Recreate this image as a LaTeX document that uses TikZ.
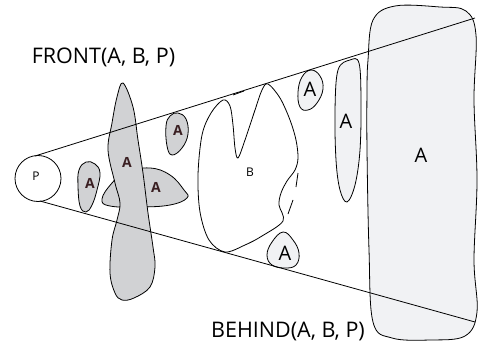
\documentclass[tikz,border=0pt]{standalone}
\usepackage{fontspec}
\setmainfont{Open Sans}
\definecolor{grayfill}{HTML}{D1D2D4}
\definecolor{lightfill}{HTML}{F1F2F4}
\definecolor{darkA}{HTML}{3A1F22}
\begin{document}
\begin{tikzpicture}[x=1pt,y=-1pt,
  outline/.style={draw=black,line width=0.8pt},
  lightA/.style={outline,fill=lightfill},
  grayA/.style={outline,fill=grayfill},
  conel/.style={draw=black,line width=0.8pt},
  hid/.style={draw=black,line width=0.8pt},
  biglab/.style={font=\fontsize{20}{22}\selectfont},
  graylab/.style={font=\fontsize{14}{16}\selectfont\bfseries,text=darkA},
  smalllab/.style={font=\fontsize{12}{14}\selectfont},
  title/.style={font=\fontsize{21.5}{24}\selectfont}]
\useasboundingbox (0,0) rectangle (481,350);
% big A at right
\path[lightA] plot[smooth cycle,tension=0.6] coordinates {(368,60) (373,20) (395,6) (440,7) (466,11) (476,35) (474,100) (477,180) (474,260) (477,312) (465,336) (430,340) (392,338) (373,322) (369,250) (367,150) (367,90)};
% tall A
\path[lightA] plot[smooth cycle,tension=0.6] coordinates {(350,60) (359,63) (361,100) (360,150) (355,185) (347,202) (340,190) (336,160) (335,110) (338,70)};
% small light A top and bottom
\path[lightA] plot[smooth cycle,tension=0.7] coordinates {(311,70) (320,76) (323,89) (317,103) (308,110) (300,107) (298,92) (302,77)};
\path[lightA] plot[smooth cycle,tension=0.7] coordinates {(283,232) (293,240) (299,253) (296,265) (285,268) (272,265) (267,255) (272,242)};
% gray shapes
\path[grayA] plot[smooth cycle,tension=0.7] coordinates {(102,199) (112,183) (126,172) (150,168) (170,175) (184,190) (187,198) (170,205) (140,207) (110,206)};
\path[grayA] plot[smooth cycle,tension=0.6] coordinates {(123,83) (133,107) (138,140) (143,173) (148,213) (153,247) (155,267) (150,287) (134,298) (122,300) (115,293) (110,273) (112,240) (117,220) (120,203) (115,183) (108,150) (112,123) (117,97)};
\path[grayA] plot[smooth cycle,tension=0.7] coordinates {(86,162) (95,164) (100,173) (97,190) (92,205) (86,212) (80,206) (78,186) (79,170)};
\path[grayA] plot[smooth cycle,tension=0.7] coordinates {(178,113) (186,119) (188,134) (182,148) (172,155) (167,146) (166,126) (170,116)};
% B shape
\path[outline] plot[smooth cycle,tension=0.55] coordinates {(223,100) (230,106) (233,125) (235,148) (238,158) (245,140) (255,110) (262,90) (268,84) (280,98) (290,120) (296,140) (298,158) (295,170) (287,181) (281,193) (279,205) (283,221) (262,236) (245,245) (225,252) (209,240) (200,212) (198,175) (202,135) (211,113)};
% hidden dashes
\draw[hid] (233,95) -- (244,91);
\draw[hid] (298,173) -- (296,187);
\draw[hid] (293,200) -- (288,214);
% P node
\node[draw,circle,line width=0.8pt,minimum size=46pt,inner sep=0pt] (P) at (38,178.5) {};
\node[smalllab] (Plab) at (36,176) {P};
% cone lines
\coordinate (ut) at (35,156);
\coordinate (lt) at (40,201);
\coordinate (ue) at (475,18);
\coordinate (le) at (475,322);
\draw[conel] (ut) -- (ue);
\draw[conel] (lt) -- (le);
% labels
\node[graylab] (a1) at (90,183) {A};
\node[graylab] (a2) at (127,162) {A};
\node[graylab] (a3) at (156,187) {A};
\node[graylab] (a4) at (178,130) {A};
\node[smalllab] (b) at (250,172) {B};
\node[biglab] (a5) at (310,89) {A};
\node[biglab] (a6) at (346,121) {A};
\node[biglab] (a7) at (285,253) {A};
\node[biglab] (a8) at (421,155) {A};
\node[title] (front) at (103.5,57) {FRONT(A, B, P)};
\node[title] (behind) at (288,331) {BEHIND(A, B, P)};
\end{tikzpicture}
\end{document}
